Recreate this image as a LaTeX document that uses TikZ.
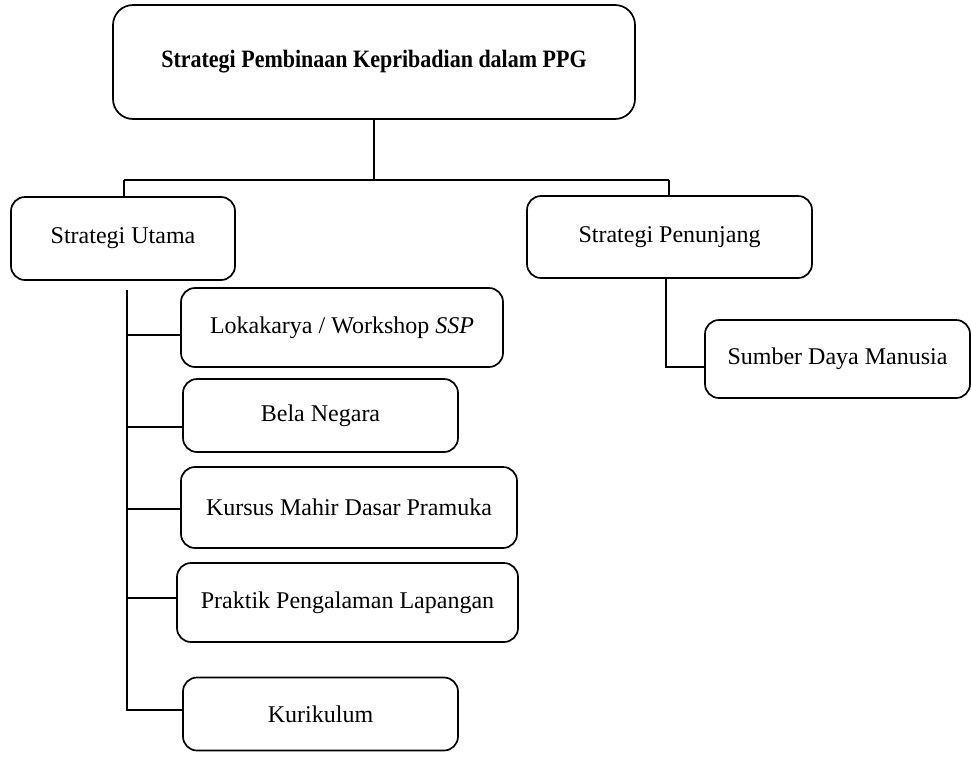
\documentclass[tikz,border=0pt]{standalone}
\usepackage{fontspec}
\setmainfont{Liberation Serif}
\newfontfamily\titlefont[FakeStretch=0.88]{Liberation Serif}
\begin{document}
\begin{tikzpicture}[x=1pt,y=-1pt,
  box/.style={draw=black,line width=1.7pt,rounded corners=14pt,inner sep=0pt,align=center,
    font=\fontsize{24}{28}\selectfont},
  conn/.style={draw=black,line width=1.7pt}]
\useasboundingbox (0,0) rectangle (972,756);
% nodes
\node[box,rounded corners=20pt,minimum width=522pt,minimum height=114pt,font=\titlefont\fontsize{25}{29}\selectfont\bfseries] (top) at (374,62) {Strategi Pembinaan Kepribadian dalam PPG};
\node[box,minimum width=224pt,minimum height=83pt] (utama) at (123,238.5) {Strategi Utama};
\node[box,minimum width=285pt,minimum height=82pt] (penunjang) at (669.5,237) {Strategi Penunjang};
\node[box,minimum width=322pt,minimum height=79pt] (lok) at (342,327.5) {Lokakarya / Workshop \textit{SSP}};
\node[box,minimum width=275pt,minimum height=73pt] (bela) at (320.5,415.5) {Bela Negara};
\node[box,minimum width=336pt,minimum height=81pt] (kursus) at (349,507.5) {Kursus Mahir Dasar Pramuka};
\node[box,minimum width=341pt,minimum height=79pt] (praktik) at (347.5,602.5) {Praktik Pengalaman Lapangan};
\node[box,minimum width=275pt,minimum height=73pt] (kuri) at (320.5,714) {Kurikulum};
\node[box,minimum width=265pt,minimum height=78pt] (sdm) at (837.5,359) {Sumber Daya Manusia};
% junctions
\coordinate (jT) at (374,180);
\coordinate (jL) at (124,180);
\coordinate (jR) at (669,180);
\coordinate (tTop) at (127,290);
\coordinate (c1) at (127,335);
\coordinate (c2) at (127,427);
\coordinate (c3) at (127,509);
\coordinate (c4) at (127,598);
\coordinate (c5) at (127,710);
\coordinate (p1) at (666,367);
% connectors
\draw[conn] (top.south) -- (jT);
\draw[conn] (jL) -- (jR);
\draw[conn] (jL) -- (jL |- utama.north);
\draw[conn] (jR) -- (jR |- penunjang.north);
\draw[conn] (tTop) -- (c5) -- (c5 -| kuri.west);
\draw[conn] (c1) -- (c1 -| lok.west);
\draw[conn] (c2) -- (c2 -| bela.west);
\draw[conn] (c3) -- (c3 -| kursus.west);
\draw[conn] (c4) -- (c4 -| praktik.west);
\draw[conn] (p1 |- penunjang.south) -- (p1) -- (p1 -| sdm.west);
\end{tikzpicture}
\end{document}
